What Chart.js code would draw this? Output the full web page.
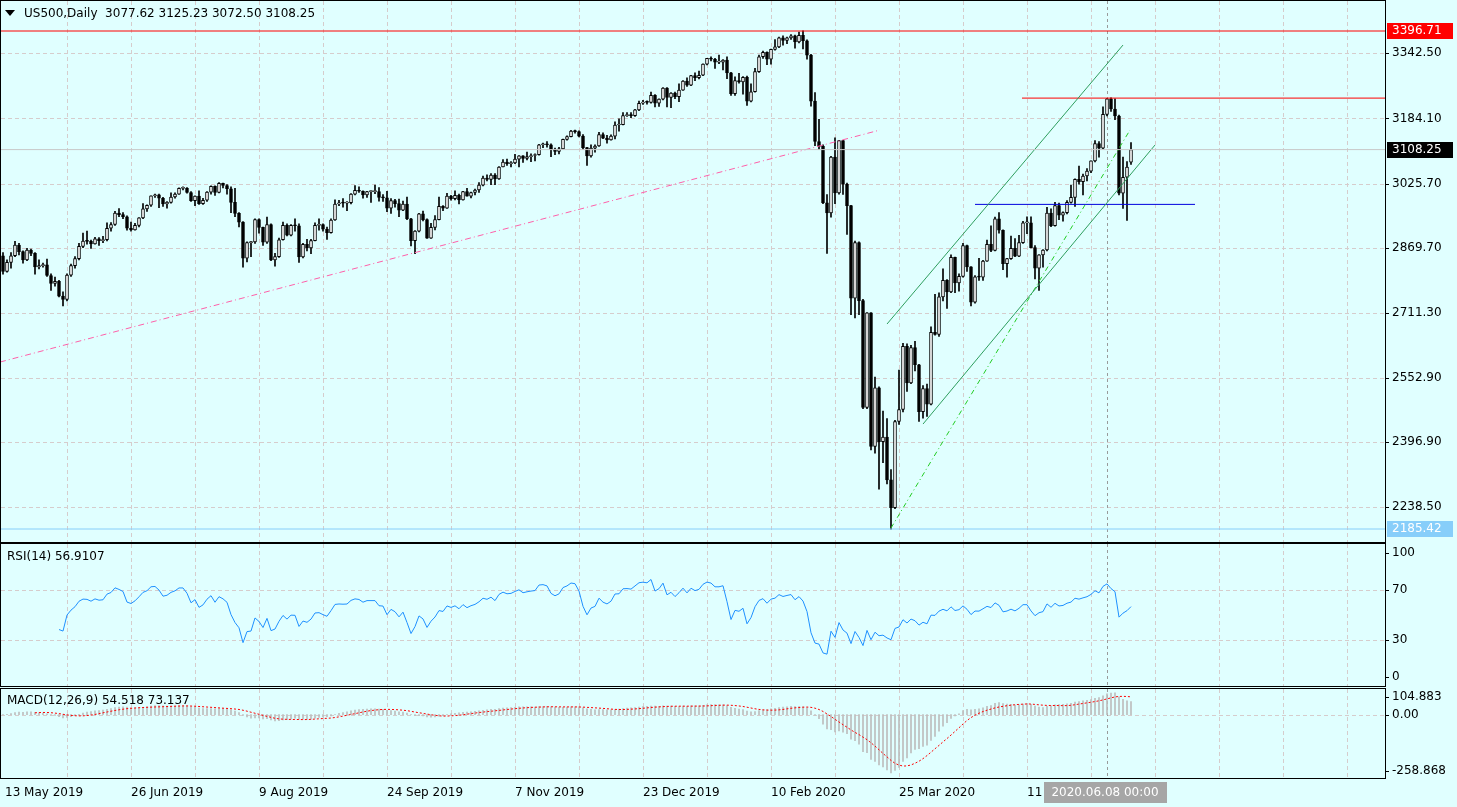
<!DOCTYPE html>
<html>
<head>
<meta charset="utf-8">
<script src="https://cdn.jsdelivr.net/npm/chart.js@4.4.0/dist/chart.umd.min.js"></script>
<style>
  html, body { margin: 0; padding: 0; background: #e0ffff; overflow: hidden; }
  #wrap { position: relative; width: 1457px; height: 807px; background: #e0ffff; }
  canvas { position: absolute; left: 0; }
</style>
</head>
<body>
<div id="wrap">
  <canvas id="main" style="top:0px"></canvas>
  <canvas id="rsi" style="top:543px"></canvas>
  <canvas id="macd" style="top:687px"></canvas>
</div>
<script>
"use strict";

// daily bars, 13 May 2019 .. 16 Jun 2020 (weekdays, no bar on 25/26 Dec, 1 Jan, 10 Apr)
const opens = [2850,2812,2834,2850,2876,2860,2840,2864,2856,2823,2826,2828,2802,2783,2788,
  2752,2744,2803,2826,2843,2873,2886,2885,2879,2891,2887,2889,2917,2926,2954,2950,2945,2917,2913,2924,
  2942,2964,2973,2996,2998,2990,2976,2980,2993,3000,3014,3014,3004,2984,2995,2977,2985,3005,3019,3004,3026,3021,3013,
  2980,2953,2932,2844,2882,2884,2938,2919,2883,2926,2840,2848,2889,2924,2900,2924,2923,2847,2878,2869,2887,2924,
  2926,2915,2906,2937,2976,2979,2978,2979,3000,3009,3007,2998,3006,3006,3006,2992,2991,2966,2984,2977,2961,
  2976,2940,2887,2910,2952,2938,2893,2919,2938,2970,2966,2995,2989,2997,2986,3006,2995,3004,3010,3022,3039,3036,3046,
  3037,3066,3078,3074,3076,3085,3093,3087,3091,3094,3096,3120,3122,3120,3108,3104,3110,3133,3140,3153,3152,
  3141,3113,3093,3112,3117,3145,3136,3132,3141,3168,3169,3191,3192,3191,3205,3221,3224,3223,3240,3221,
  3231,3258,3235,3246,3237,3253,3275,3265,3288,3283,3289,3316,3330,3328,3321,3321,3326,3295,3244,3276,3273,3284,
  3226,3249,3298,3334,3345,3328,3352,3358,3380,3374,3380,3385,3370,3386,3373,3338,3226,3128,3116,2979,
  2954,3090,3003,3130,3024,2972,2747,2882,2741,2481,2711,2386,2529,2398,2409,2305,2237,2447,2476,2630,2541,2627,
  2585,2471,2527,2489,2664,2659,2750,2790,2762,2846,2784,2800,2875,2823,2737,2799,2798,2837,2878,2863,2940,
  2912,2831,2843,2868,2849,2882,2930,2930,2870,2820,2852,2864,2954,2923,2972,2949,2955,2980,2992,3036,3030,
  3044,3056,3081,3123,3112,3194,3232,3207,3190,3002,3041,3077.62];
const highs = [2858,2840,2858,2885,2880,2862,2868,2866,2858,2840,2832,2842,2806,2798,2790,
  2762,2806,2830,2848,2880,2905,2910,2888,2895,2894,2897,2930,2931,2958,2965,2955,2947,2932,2929,2943,
  2977,2974,2996,3000,3000,2992,2982,3003,3003,3015,3018,3016,3006,2996,3008,2990,3006,3020,3020,3028,3027,3023,3018,
  3014,2955,2933,2884,2885,2940,2940,2920,2944,2928,2856,2893,2932,2928,2926,2940,2928,2880,2890,2890,2930,2940,
  2928,2920,2940,2986,2985,2989,2982,3001,3021,3018,3008,3007,3008,3022,3016,2999,3007,2989,2987,2988,2983,
  2993,2941,2911,2953,2959,2940,2929,2948,2993,2972,3002,2997,3008,3000,3007,3014,3005,3012,3028,3044,3047,3050,3050,
  3067,3084,3085,3079,3097,3094,3094,3102,3098,3098,3121,3124,3128,3122,3112,3114,3134,3142,3155,3156,3154,
  3145,3114,3120,3120,3150,3149,3143,3144,3176,3183,3198,3198,3198,3206,3226,3228,3227,3248,3242,3232,
  3259,3259,3247,3248,3268,3276,3283,3289,3295,3299,3317,3330,3334,3330,3338,3327,3334,3296,3285,3294,3286,3287,
  3268,3306,3338,3348,3346,3353,3376,3382,3385,3382,3388,3387,3394,3397,3375,3340,3247,3182,3120,2999,
  3092,3137,3131,3131,3027,2973,2886,2884,2744,2712,2712,2555,2531,2472,2454,2330,2450,2572,2637,2636,2632,2642,
  2586,2534,2538,2677,2756,2760,2818,2792,2852,2847,2806,2880,2876,2824,2802,2844,2839,2888,2923,2944,2955,
  2913,2844,2898,2892,2900,2934,2945,2945,2875,2853,2865,2968,2964,2980,2978,2957,2984,3022,3037,3068,3049,
  3062,3081,3130,3128,3212,3233,3234,3232,3192,3090,3079,3125.23];
const lows = [2805,2810,2820,2848,2852,2832,2838,2850,2805,2818,2822,2800,2766,2776,2750,
  2728,2740,2800,2820,2840,2870,2878,2868,2878,2875,2882,2886,2910,2924,2945,2940,2912,2910,2912,2920,
  2940,2958,2970,2992,2967,2970,2966,2978,2990,2999,3010,3002,2982,2972,2975,2975,2982,3000,2997,3003,3015,3000,2955,
  2945,2920,2822,2835,2848,2880,2905,2875,2880,2838,2825,2846,2888,2898,2898,2910,2834,2845,2862,2855,2886,2912,
  2910,2890,2905,2936,2972,2968,2960,2976,2998,3004,2990,2992,2980,3001,2983,2982,2957,2953,2968,2945,2960,
  2938,2874,2855,2908,2935,2892,2892,2913,2937,2960,2965,2985,2986,2976,2985,2995,2991,2998,3004,3020,3032,3023,3023,
  3036,3066,3070,3066,3074,3066,3077,3083,3079,3081,3095,3113,3114,3091,3096,3098,3110,3131,3139,3148,3139,
  3108,3070,3090,3102,3116,3135,3124,3131,3134,3153,3168,3189,3186,3189,3203,3218,3219,3221,3212,3213,
  3229,3212,3210,3232,3225,3252,3262,3264,3276,3280,3288,3314,3324,3306,3317,3302,3281,3240,3240,3270,3243,3216,
  3224,3248,3296,3330,3315,3316,3350,3356,3362,3366,3376,3355,3368,3353,3328,3214,3118,3108,2977,2856,
  2944,2977,3000,2999,2902,2707,2699,2707,2478,2478,2378,2370,2282,2347,2295,2185,2235,2440,2470,2520,2539,2570,
  2447,2455,2459,2487,2657,2654,2740,2722,2760,2760,2764,2798,2812,2728,2735,2790,2790,2836,2860,2862,2905,
  2816,2798,2841,2848,2848,2880,2904,2869,2794,2766,2822,2862,2921,2922,2938,2934,2952,2978,2970,3024,2998,
  3032,3052,3078,3090,3110,3190,3201,3181,2998,2965,2936,3072.50];
const closes = [2812,2834,2850,2876,2860,2840,2864,2856,2823,2826,2828,2802,2783,2788,2752,
  2744,2803,2826,2843,2873,2886,2885,2879,2891,2887,2889,2917,2926,2954,2950,2945,2917,2913,2924,2942,
  2964,2973,2996,2998,2990,2976,2980,2993,3000,3014,3014,3004,2984,2995,2977,2985,3005,3019,3004,3026,3021,3013,2980,
  2953,2932,2844,2882,2884,2938,2919,2883,2926,2840,2848,2889,2924,2900,2924,2923,2847,2878,2869,2887,2924,2926,
  2915,2906,2937,2976,2979,2978,2979,3000,3009,3007,2998,3006,3006,3006,2992,2991,2966,2984,2977,2961,2976,
  2940,2887,2910,2952,2938,2893,2919,2938,2970,2966,2995,2989,2997,2986,3006,2995,3004,3010,3022,3039,3036,3046,3037,
  3066,3078,3074,3076,3085,3093,3087,3091,3094,3096,3120,3122,3120,3108,3104,3110,3133,3140,3153,3152,3141,
  3113,3093,3112,3117,3145,3136,3132,3141,3168,3169,3191,3192,3191,3205,3221,3224,3223,3240,3221,3231,
  3258,3235,3246,3237,3253,3275,3265,3288,3283,3289,3316,3330,3328,3321,3321,3326,3295,3244,3276,3273,3284,3226,
  3249,3298,3334,3345,3328,3352,3358,3380,3374,3380,3385,3370,3386,3373,3338,3226,3128,3116,2979,2954,
  3090,3003,3130,3024,2972,2747,2882,2741,2481,2711,2386,2529,2398,2409,2305,2237,2447,2476,2630,2541,2627,2585,
  2471,2527,2489,2664,2659,2750,2790,2762,2846,2784,2800,2875,2823,2737,2799,2798,2837,2878,2863,2940,2912,
  2831,2843,2868,2849,2882,2930,2930,2870,2820,2852,2864,2954,2923,2972,2949,2955,2980,2992,3036,3030,3044,
  3056,3081,3123,3112,3194,3232,3207,3190,3002,3041,3066,3108.25];

const tickDates = ["13 May 2019","26 Jun 2019","9 Aug 2019","24 Sep 2019","7 Nov 2019",
  "23 Dec 2019","10 Feb 2020","25 Mar 2020","11 May 2020"];
const priceTicks = [3342.50, 3184.10, 3025.70, 2869.70, 2711.30, 2552.90, 2396.90, 2238.50];
const rsiTicks = [100, 70, 30, 0];
const macdTicks = [104.883, 0, -258.868];

// drawn objects in (bar index, price)
const trendPink = [[-0.75, 2591.5], [219.25, 3155.9]];
const channelUpper = [[221, 2684], [280, 3362.6]];
const channelLower = [[230, 2440.7], [288, 3119.4]];
const trendGreen = [[222, 2187.8], [281.75, 3155.9]];
const resistance = [[254.75, 3233.5], [345.5, 3233.5]];
const support = [[243, 2975], [298, 2975]];
const highMark = 3396.71, lowMark = 2185.42, lastPrice = 3108.25;
const cursorBar = 276;

const XMIN = -0.5, XMAX = 345.5;
const FONT = '12px "DejaVu Sans"';
const GRID = '#d6cccc';

// indicators from the closes
function calcRsi(c, n) {
  const out = c.map(() => null);
  let g = 0, l = 0;
  for (let i = 1; i <= n; i++) { const d = c[i] - c[i - 1]; if (d > 0) g += d; else l -= d; }
  g /= n; l /= n;
  out[n] = 100 - 100 / (1 + g / l);
  for (let i = n + 1; i < c.length; i++) {
    const d = c[i] - c[i - 1];
    g = (g * (n - 1) + Math.max(d, 0)) / n;
    l = (l * (n - 1) + Math.max(-d, 0)) / n;
    out[i] = 100 - 100 / (1 + g / l);
  }
  return out;
}
function ema(c, n) {
  const k = 2 / (n + 1), out = [c[0]];
  for (let i = 1; i < c.length; i++) out.push(c[i] * k + out[i - 1] * (1 - k));
  return out;
}
const rsi = calcRsi(closes, 14);
const e12 = ema(closes, 12), e26 = ema(closes, 26);
const macd = closes.map((v, i) => e12[i] - e26[i]);
const signal = macd.map((v, i) => {
  if (i < 8) return null;
  let s = 0; for (let j = i - 8; j <= i; j++) s += macd[j]; return s / 9;
});

const seg = (pts) => pts.map(p => ({x: p[0], y: p[1]}));
const hline = (y) => [{x: XMIN, y: y}, {x: XMAX, y: y}];
const lineDs = (data, color, dash, width) => ({
  type: 'line', data: data, borderColor: color, borderWidth: width || 1,
  borderDash: dash || [], pointRadius: 0, order: 0, tension: 0
});

function xScale(h) {
  return {
    type: 'linear', min: XMIN, max: XMAX, display: true, offset: false,
    ticks: {display: false}, grid: {display: false, offset: false}, border: {display: false},
    afterFit: s => { s.height = h; }
  };
}
function yScale(min, max) {
  return {
    type: 'linear', position: 'right', min: min, max: max, display: true,
    ticks: {display: false}, grid: {display: false}, border: {display: false},
    afterFit: s => { s.width = 72; }
  };
}

function panelPlugin(hGrid, labels, extra) {
  return {
    id: 'panel',
    beforeDatasetsDraw(chart) {
      const ctx = chart.ctx, a = chart.chartArea, x = chart.scales.x, y = chart.scales.y;
      ctx.save();
      ctx.strokeStyle = GRID; ctx.lineWidth = 1; ctx.setLineDash([4, 3]);
      for (let i = 16; i < XMAX; i += 16) {
        const px = Math.round(x.getPixelForValue(i)) + 0.5;
        ctx.beginPath(); ctx.moveTo(px, a.top); ctx.lineTo(px, a.bottom); ctx.stroke();
      }
      hGrid.forEach(v => {
        const py = Math.round(y.getPixelForValue(v)) + 0.5;
        ctx.beginPath(); ctx.moveTo(a.left, py); ctx.lineTo(a.right, py); ctx.stroke();
      });
      ctx.strokeStyle = '#9a9a9a'; ctx.setLineDash([3, 3]);
      const cx = Math.round(x.getPixelForValue(cursorBar)) + 0.5;
      ctx.beginPath(); ctx.moveTo(cx, a.top); ctx.lineTo(cx, a.bottom); ctx.stroke();
      ctx.restore();
    },
    afterDraw(chart) {
      const ctx = chart.ctx, a = chart.chartArea, y = chart.scales.y;
      ctx.save();
      ctx.strokeStyle = '#000'; ctx.lineWidth = 1; ctx.setLineDash([]);
      ctx.strokeRect(0.5, a.top - 0.5, a.right, a.bottom - a.top + 1);
      ctx.font = FONT; ctx.fillStyle = '#000'; ctx.textBaseline = 'middle'; ctx.textAlign = 'left';
      labels.forEach(l => {
        const py = l.py !== undefined ? l.py : y.getPixelForValue(l.v);
        ctx.beginPath(); ctx.moveTo(a.right, Math.round(py) + 0.5); ctx.lineTo(a.right + 4, Math.round(py) + 0.5); ctx.stroke();
        ctx.fillText(l.t, a.right + 7, py);
      });
      if (extra) extra(chart, ctx, a);
      ctx.restore();
    }
  };
}

function markLabel(ctx, a, py, text, bg, fg) {
  ctx.fillStyle = bg;
  ctx.fillRect(a.right + 2, Math.round(py) - 8, 66, 16);
  ctx.fillStyle = fg;
  ctx.fillText(text, a.right + 7, py);
}

function sizeCanvas(id, h) {
  const c = document.getElementById(id);
  c.width = 1457; c.height = h; c.style.width = '1457px'; c.style.height = h + 'px';
  return c;
}
const common = {
  responsive: false, animation: false, devicePixelRatio: 1,
  plugins: {legend: {display: false}, tooltip: {enabled: false}}
};

// ---- price panel
const wicks = highs.map((h, i) => ({x: i, y: [lows[i], h]}));
const bodies = opens.map((o, i) => ({x: i, y: [o, closes[i]]}));
const bodyFill = opens.map((o, i) => closes[i] >= o ? '#ffffff' : '#000000');

new Chart(sizeCanvas('main', 543), {
  type: 'bar',
  data: {
    datasets: [
      lineDs(hline(lastPrice), '#c8c8c8', [], 1),
      lineDs(hline(highMark), '#ff0000', [], 1),
      lineDs(hline(lowMark), '#87cefa', [], 1),
      {data: wicks, backgroundColor: '#000', barThickness: 1, grouped: false, order: 3},
      {data: bodies, backgroundColor: bodyFill, borderColor: '#000', borderWidth: 1,
       borderSkipped: false, barThickness: 3, minBarLength: 1, grouped: false, order: 2},
      lineDs(seg(trendPink), '#ff5fa8', [6, 3, 1, 3], 1),
      lineDs(seg(channelUpper), '#2e9e5e', [], 1),
      lineDs(seg(channelLower), '#2e9e5e', [], 1),
      lineDs(seg(trendGreen), '#22cc22', [5, 3, 1, 3], 1),
      lineDs(seg(resistance), '#ff0000', [], 1),
      lineDs(seg(support), '#0000dd', [], 1)
    ]
  },
  options: Object.assign({}, common, {
    layout: {padding: {left: 1, top: 1, bottom: 1, right: 0}},
    scales: {x: xScale(0), y: yScale(2153.8, 3469.7)}
  }),
  plugins: [panelPlugin(priceTicks, priceTicks.map(v => ({v: v, t: v.toFixed(2)})), (chart, ctx, a) => {
    const y = chart.scales.y;
    markLabel(ctx, a, y.getPixelForValue(highMark), highMark.toFixed(2), '#ff0000', '#fff');
    markLabel(ctx, a, y.getPixelForValue(lastPrice), lastPrice.toFixed(2), '#000000', '#fff');
    markLabel(ctx, a, y.getPixelForValue(lowMark), lowMark.toFixed(2), '#87cefa', '#fff');
    ctx.fillStyle = '#000';
    ctx.beginPath(); ctx.moveTo(5, 10); ctx.lineTo(15, 10); ctx.lineTo(10, 16); ctx.closePath(); ctx.fill();
    ctx.fillText('US500,Daily  ' + [opens[opens.length - 1], highs[highs.length - 1], lows[lows.length - 1],
      closes[closes.length - 1]].map(v => v.toFixed(2)).join(' '), 24, 14);
  })]
});

// ---- RSI panel
new Chart(sizeCanvas('rsi', 144), {
  type: 'line',
  data: {datasets: [{data: rsi.map((v, i) => ({x: i, y: v})), borderColor: '#1e90ff', borderWidth: 1,
    pointRadius: 0, tension: 0, spanGaps: false}]},
  options: Object.assign({}, common, {
    layout: {padding: {left: 1, top: 1, bottom: 1, right: 0}},
    scales: {x: xScale(0), y: yScale(-7.26, 107.26)}
  }),
  plugins: [panelPlugin([70, 30], rsiTicks.map(v => ({v: v, t: String(v)})), (chart, ctx) => {
    ctx.fillStyle = '#000';
    ctx.fillText('RSI(14) 56.9107', 7, 14);
  })]
});

// ---- MACD panel + time axis
new Chart(sizeCanvas('macd', 120), {
  type: 'bar',
  data: {datasets: [
    {data: macd.map((v, i) => ({x: i, y: v})), backgroundColor: '#bdbdbd', barThickness: 1, grouped: false, order: 2},
    {type: 'line', data: signal.map((v, i) => ({x: i, y: v})), borderColor: '#ff0000', borderWidth: 1,
     borderDash: [2, 2], pointRadius: 0, tension: 0, order: 1}
  ]},
  options: Object.assign({}, common, {
    layout: {padding: {left: 1, top: 2, bottom: 0, right: 0}},
    scales: {x: xScale(29), y: yScale(-258.868, 104.883)}
  }),
  plugins: [panelPlugin([0], [
    {py: 10, t: macdTicks[0].toFixed(3)},
    {v: 0, t: '0.00'},
    {py: 84, t: macdTicks[2].toFixed(3)}
  ], (chart, ctx, a) => {
    const x = chart.scales.x;
    ctx.fillStyle = '#000';
    ctx.fillText('MACD(12,26,9) 54.518 73.137', 7, 14);
    tickDates.forEach((t, k) => {
      const px = Math.max(5, x.getPixelForValue(k * 32));
      ctx.fillText(t, px, 106);
    });
    const cx = x.getPixelForValue(cursorBar);
    ctx.fillStyle = '#a6a6a6';
    ctx.fillRect(cx - 63, 95, 123, 21);
    ctx.fillStyle = '#fff'; ctx.textAlign = 'center';
    ctx.fillText('2020.06.08 00:00', cx - 2, 106);
  })]
});
</script>
</body>
</html>
